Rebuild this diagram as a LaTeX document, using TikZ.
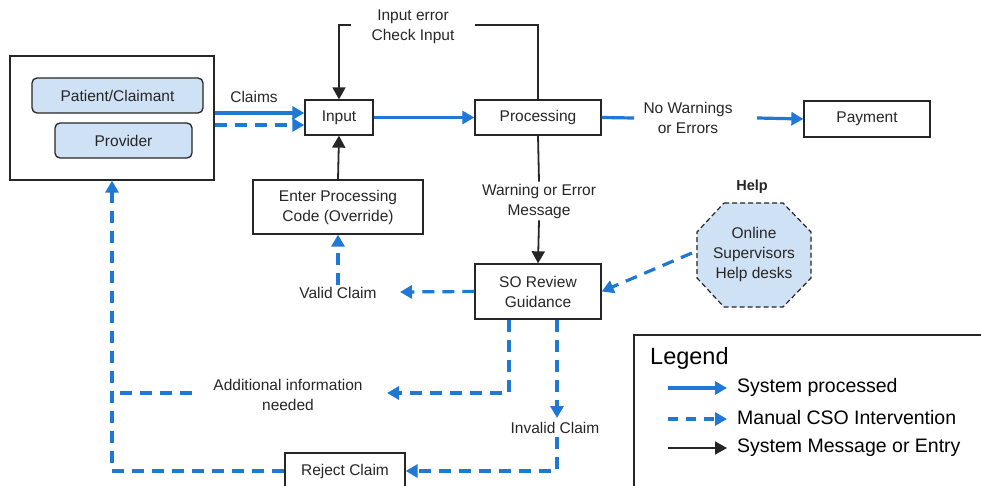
\documentclass[tikz,border=0pt]{standalone}
\usepackage{fontspec}
\setmainfont{Liberation Sans}
\usetikzlibrary{arrows.meta,calc}
\definecolor{flowblue}{RGB}{31,120,212}
\definecolor{paleblue}{RGB}{207,225,244}
\definecolor{ink}{RGB}{38,38,38}

\tikzset{
  lbl/.style={font=\fontsize{15.5}{20}\selectfont, text=ink, align=center, inner sep=2pt},
  box/.style={lbl, draw=ink, line width=1.3pt, fill=white},
  pill/.style={box, fill=paleblue, rounded corners=5pt},
  tip/.style={-{Triangle[length=12pt,width=13pt]}},
  sys/.style={draw=flowblue, line width=3.2pt},
  man/.style={draw=flowblue, line width=3.2pt, dash pattern=on 12pt off 8pt},
  msg/.style={draw=ink, line width=1.8pt},
}

\begin{document}
\begin{tikzpicture}[x=1pt,y=-1pt]
\useasboundingbox (0,0) rectangle (981,486);

% source box with the two claimant kinds
\node[box, minimum width=204pt, minimum height=124pt] (outer) at (112,118) {};
\node[pill, minimum width=171pt, minimum height=35pt] (patient) at (117.5,95.5) {Patient/Claimant};
\node[pill, minimum width=137pt, minimum height=35pt] (provider) at (123.5,140.5) {Provider};

% main process boxes
\node[box, minimum width=68pt, minimum height=35pt] (input) at (339,117.5) {Input};
\node[box, minimum width=126pt, minimum height=35pt] (proc) at (538,117.5) {Processing};
\node[box, minimum width=126pt, minimum height=36pt] (pay) at (867,119) {Payment};
\node[box, minimum width=170pt, minimum height=54pt] (enter) at (338,207) {Enter Processing\\Code (Override)};
\node[box, minimum width=126pt, minimum height=55pt] (so) at (538,291.5) {SO Review\\Guidance};
\node[box, minimum width=120pt, minimum height=36pt] (reject) at (345,471) {Reject Claim};

% free-standing labels
\node[lbl] (claims) at (254,97) {Claims};
\node[lbl] (inerr) at (413,27) {Input error\\Check Input};
\node[lbl] (nowarn) at (688,118) {No Warnings\\or Errors};
\node[lbl] (warnmsg) at (539,201) {Warning or Error\\Message};
\node[lbl] (valid) at (338,293) {Valid Claim};
\node[lbl] (addinfo) at (288,395) {Additional information\\needed};
\node[lbl] (invalid) at (555,428) {Invalid Claim};

% help octagon
\draw[draw=ink, line width=1.2pt, fill=paleblue, dash pattern=on 5pt off 3pt]
  (724,203) -- (783,203) -- (811,232) -- (811,278) -- (783,307)
  -- (724,307) -- (697,278) -- (697,232) -- cycle;
\node[lbl] (help) at (754,254) {Online\\Supervisors\\Help desks};
\node[lbl, font=\bfseries\fontsize{14.5}{18}\selectfont] (helptitle) at (752,187) {Help};

% connector end points
\coordinate (nwa) at (634,118);
\coordinate (nwb) at (757,118);
\coordinate (validtip) at (400,292);
\coordinate (addtip) at (387,393);
\coordinate (addend) at (192,393);
\coordinate (invtip) at (557,418);
\coordinate (invstart) at (557,437);
\coordinate (helpw) at (692,253);

% system processed
\draw[sys, tip] (outer.east |- 0,113) -- (input.west |- 0,113);
\draw[sys, tip] (input) -- (proc);
\draw[sys] (proc.east) -- (nwa);
\draw[sys, tip] (nwb) -- (pay.west);

% manual intervention
\draw[man, tip] (outer.east |- 0,125) -- (input.west |- 0,125);
\draw[man, tip] (so.west) -- (validtip);
\draw[man, tip] (valid.north) -- (enter.south);
\draw[man, tip] (helpw) -- (so.east);
\draw[man, tip] (so.south -| 509,0) -- (509,393) -- (addtip);
\draw[man] (addend) -- (outer.south |- 0,393);
\draw[man, tip] (so.south -| invtip) -- (invtip);
\draw[man, tip] (invstart) -- (557,471) -- (reject.east);
\draw[man, tip] (reject.west) -| (outer.south);

% system messages
\draw[msg] (proc.north) -- (proc.north |- 0,25) -- (475,25);
\draw[msg, tip] (351,25) -- (input.north |- 0,25) -- (input.north);
\draw[msg, tip] (enter.north) -- (input.south);
\draw[msg] (proc.south) -- (warnmsg.north);
\draw[msg, tip] (warnmsg.south) -- (so.north);

% legend
\draw[draw=ink, line width=1.3pt, fill=white] (634,335) rectangle (995,500);
\node[anchor=west, font=\fontsize{23.5}{28}\selectfont, text=black, inner sep=2pt] (legtitle) at (648,358) {Legend};
\node[anchor=west, font=\fontsize{19.5}{24}\selectfont, text=black, inner sep=2pt] (leg1) at (735,387) {System processed};
\node[anchor=west, font=\fontsize{19.5}{24}\selectfont, text=black, inner sep=2pt] (leg2) at (735,418) {Manual CSO Intervention};
\node[anchor=west, font=\fontsize{19.5}{24}\selectfont, text=black, inner sep=2pt] (leg3) at (735,448) {System Message or Entry};
\coordinate (l1a) at (668,388); \coordinate (l1b) at (727,388);
\coordinate (l2a) at (668,419); \coordinate (l2b) at (727,419);
\coordinate (l3a) at (668,448); \coordinate (l3b) at (727,448);
\draw[sys, tip] (l1a) -- (l1b);
\draw[man, dash pattern=on 10pt off 8pt, tip] (l2a) -- (l2b);
\draw[msg, tip] (l3a) -- (l3b);
\end{tikzpicture}
\end{document}
